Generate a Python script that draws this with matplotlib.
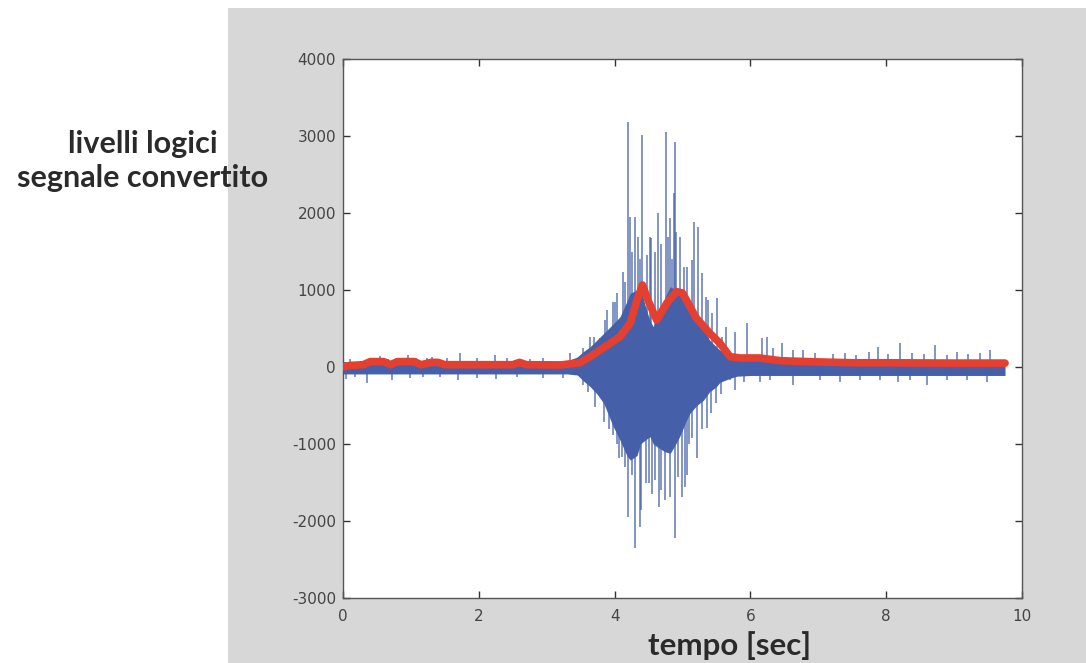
import matplotlib
matplotlib.use("Agg")
import matplotlib.pyplot as plt
from matplotlib.patches import Rectangle

# ---- data ----
# dense core of the converted signal (solid envelope)
core_t = [0.0, 3.30, 3.45, 3.54, 3.64, 3.74, 3.84, 3.98, 4.08, 4.18, 4.23, 4.33, 4.38, 4.45,
          4.52, 4.57, 4.65, 4.74, 4.82, 4.90, 4.96, 5.06, 5.11, 5.21, 5.31, 5.40, 5.50, 5.55,
          5.70, 5.80, 6.0, 9.75]
core_top = [70, 80, 130, 200, 264, 350, 437, 560, 653, 850, 957, 1000, 1044, 800,
            600, 524, 700, 900, 1044, 1000, 957, 850, 740, 600, 480, 350, 260, 221,
            150, 91, 100, 100]
core_bot = [-90, -90, -104, -180, -255, -350, -472, -775, -950, -1150, -1208, -1150, -1000, -950,
            -905, -1000, -1050, -1100, -1121, -1000, -900, -688, -600, -500, -430, -320, -255, -200,
            -147, -120, -110, -110]

# positive spikes of the signal
up_t = [0.10, 0.40, 0.54, 0.67, 0.95, 1.08, 1.23, 1.31, 1.38, 1.53, 1.72, 1.97, 2.24, 2.41,
        2.75, 2.95, 3.34,
        3.54, 3.64, 3.69, 3.78, 3.86, 3.89, 3.98, 4.00, 4.03, 4.13, 4.16, 4.20, 4.23, 4.26,
        4.30, 4.35, 4.38, 4.41, 4.48, 4.52, 4.54, 4.60, 4.64, 4.69, 4.75, 4.79, 4.81, 4.85,
        4.87, 4.89, 4.91, 4.97, 5.02, 5.06, 5.14, 5.17, 5.23, 5.28, 5.35, 5.38, 5.44, 5.51,
        5.58, 5.64, 5.78, 5.95, 6.17,
        6.24, 6.34, 6.46, 6.63, 6.78, 6.95, 7.22, 7.39, 7.56, 7.74, 7.88, 8.03, 8.20, 8.38,
        8.55, 8.72, 8.89, 9.04, 9.21, 9.38, 9.53]
up_v = [110, 120, 143, 110, 156, 120, 115, 134, 110, 120, 177, 115, 156, 120,
        110, 115, 177,
        250, 394, 394, 372, 611, 740, 850, 849, 957, 1238, 1100, 3187, 1953, 1500,
        1953, 1693, 1400, 3014, 1455, 1693, 1671, 1500, 1996, 1600, 3057, 1693, 1931, 1400,
        2256, 2927, 1758, 1693, 1303, 1303, 1390, 1888, 1823, 1217, 914, 870, 700, 892,
        394, 524, 459, 568, 372,
        394, 250, 307, 220, 221, 180, 170, 180, 160, 190, 264, 170, 307, 180,
        170, 286, 160, 199, 170, 180, 221]

# negative spikes of the signal
dn_t = [0.05, 0.18, 0.35, 0.72, 0.99, 1.18, 1.43, 1.70, 1.97, 2.26, 2.56, 2.95, 3.24,
        3.54, 3.61, 3.71, 3.84, 3.92, 3.98, 4.04, 4.07, 4.11, 4.15, 4.20, 4.25, 4.30, 4.35,
        4.37, 4.39, 4.46, 4.51, 4.55, 4.60, 4.65, 4.69, 4.74, 4.82, 4.89, 4.93, 4.99, 5.03,
        5.06, 5.10, 5.14, 5.21, 5.28, 5.36, 5.42, 5.50, 5.56, 5.70, 5.77, 5.90,
        6.14, 6.29, 6.63, 7.03, 7.32, 7.61, 7.91, 8.18, 8.35, 8.60, 8.89, 9.19, 9.48]
dn_v = [-150, -130, -212, -169, -140, -135, -130, -169, -140, -160, -135, -147, -140,
        -234, -320, -515, -710, -800, -883, -1000, -1186, -1165, -1295, -1944, -1403, -2355, -1035,
        -2073, -1857, -1500, -1511, -1645, -1472, -1814, -1600, -1728, -1684, -2226, -1425, -1684, -1559,
        -1403, -1000, -926, -1186, -800, -797, -600, -472, -350, -169, -299, -200,
        -190, -170, -234, -170, -190, -165, -175, -190, -165, -234, -170, -165, -190]

# envelope (red line)
env_t = [0.0, 0.1, 0.3, 0.4, 0.6, 0.7, 0.8, 1.05, 1.15, 1.3, 1.4, 1.5, 2.0, 2.5, 2.6, 2.7,
         3.2, 3.49, 3.64, 3.83, 4.08, 4.23, 4.33, 4.41, 4.50, 4.62, 4.77, 4.91, 5.0, 5.1,
         5.2, 5.40, 5.55, 5.70, 5.85, 6.14, 6.44, 6.88, 7.5, 8.0, 9.0, 9.75]
env_v = [0, 20, 30, 70, 70, 30, 70, 70, 30, 60, 60, 30, 30, 30, 60, 30,
         26, 56, 134, 247, 394, 571, 870, 1065, 850, 610, 830, 980, 960, 800,
         640, 440, 310, 134, 117, 117, 82, 69, 55, 55, 50, 50]

x_ticks = [0, 2, 4, 6, 8, 10]
y_ticks = [-3000, -2000, -1000, 0, 1000, 2000, 3000, 4000]

BLUE = "#4560a8"
RED = "#e5402f"

fig = plt.figure(figsize=(10.86, 6.63), dpi=100)
fig.patch.set_facecolor("white")
bg = Rectangle((228 / 1086, 0), 1 - 228 / 1086, 1 - 8 / 663,
               transform=fig.transFigure, facecolor="#d7d7d7",
               edgecolor="none", zorder=-10)
fig.add_artist(bg)

ax = fig.add_axes([343 / 1086, 1 - 598 / 663, (1022 - 343) / 1086, (598 - 59) / 663])
ax.set_zorder(5)
ax.set_facecolor("white")

ax.fill_between(core_t, core_bot, core_top, color=BLUE, lw=0, zorder=2)
ax.vlines(up_t, 0, up_v, color=BLUE, lw=1.1, alpha=0.85, zorder=2)
ax.vlines(dn_t, 0, dn_v, color=BLUE, lw=1.1, alpha=0.85, zorder=2)
ax.plot(env_t, env_v, color=RED, lw=5.5, solid_capstyle="round",
        solid_joinstyle="round", zorder=3)

ax.set_xlim(0, 10)
ax.set_ylim(-3000, 4000)
ax.set_xticks(x_ticks)
ax.set_yticks(y_ticks)
ax.set_xticklabels([str(v) for v in x_ticks])
ax.set_yticklabels([str(v) for v in y_ticks])
ax.tick_params(direction="in", length=5, width=1, color="#333333",
               labelsize=11, labelcolor="#444444", top=True, right=True)
for lab in ax.get_xticklabels() + ax.get_yticklabels():
    lab.set_fontfamily("DejaVu Sans")
ax.tick_params(axis="x", pad=8)
ax.tick_params(axis="y", pad=5)
for s in ax.spines.values():
    s.set_color("#555555")
    s.set_linewidth(1.0)

fig.text(143 / 1086, 1 - 161 / 663, "livelli logici\nsegnale convertito",
         ha="center", va="center", multialignment="center",
         fontfamily="Lato", fontweight="bold", fontsize=22, color="#2a2a2a",
         linespacing=1.3)
fig.text(730 / 1086, 1 - 646 / 663, "tempo [sec]", ha="center", va="center",
         fontfamily="Lato", fontweight="bold", fontsize=22.5, color="#2a2a2a")

fig.savefig("out.png", dpi=100)
